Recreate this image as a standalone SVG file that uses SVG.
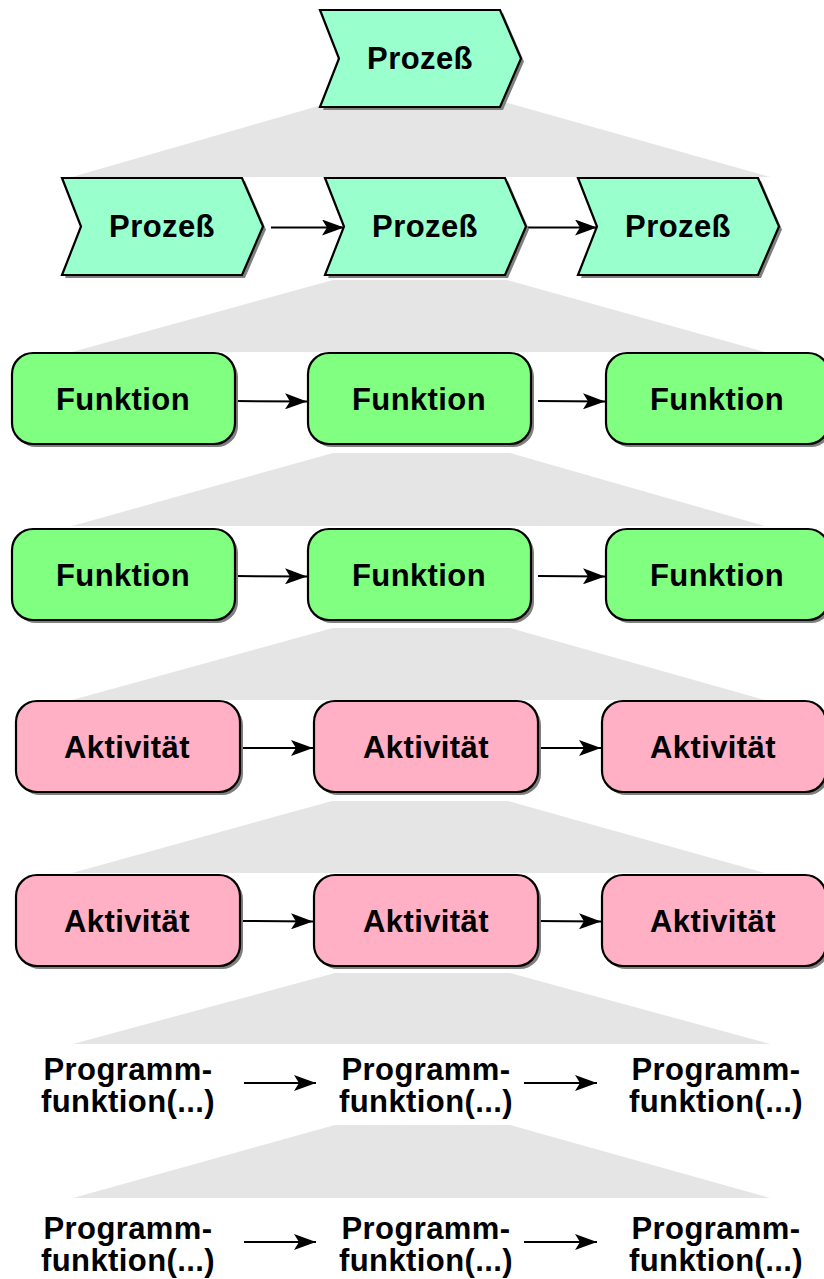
<svg xmlns="http://www.w3.org/2000/svg" width="824" height="1279" viewBox="0 0 824 1279">
<defs>
<style>
.tr{fill:#e5e5e5;stroke:none}
.sh{fill:#7f7f7f;stroke:none}
.pz{fill:#99ffcc;stroke:#000;stroke-width:2.2;stroke-linejoin:miter}
.fk{fill:#80ff80;stroke:#000;stroke-width:2.2}
.ak{fill:#ffb0c4;stroke:#000;stroke-width:2.2}
.t{font-family:"Liberation Sans",Arial,sans-serif;font-weight:bold;font-size:31px;letter-spacing:0.4px;text-anchor:middle;fill:#000}
.c{stroke:#000;stroke-width:2;fill:none;marker-end:url(#ah)}
</style>
<marker id="ah" markerWidth="22" markerHeight="16" refX="22" refY="8" orient="auto" markerUnits="userSpaceOnUse">
<path d="M0,0 L22,8 L0,16 L5,8 Z" fill="#000"/>
</marker>
<path id="chev" d="M0,0 H180 L201,48.5 L180,97 H0 L19,48.5 Z"/>
</defs>

<g id="trapezoids">
<polygon class="tr" points="322,105 508,103 770,177 72,177"/>
<polygon class="tr" points="333,280 507,280 765,352 72,352"/>
<polygon class="tr" points="333,453 510,453 765,526 72,526"/>
<polygon class="tr" points="333,628 510,628 765,700 72,700"/>
<polygon class="tr" points="332,801 508,801 765,873 72,873"/>
<polygon class="tr" points="335,973 510,973 770,1044 73,1044"/>
<polygon class="tr" points="335,1125 510,1125 770,1198 73,1198"/>
</g>

<g id="connectors">
<line class="c" x1="271" y1="227.5" x2="344" y2="227.5"/>
<line class="c" x1="527" y1="227.5" x2="597" y2="227.5"/>
<line class="c" x1="236" y1="401" x2="307" y2="401.5"/>
<line class="c" x1="538" y1="401" x2="605" y2="401.5"/>
<line class="c" x1="236" y1="576" x2="307" y2="576.5"/>
<line class="c" x1="538" y1="576" x2="605" y2="576.5"/>
<line class="c" x1="242" y1="748" x2="313" y2="748"/>
<line class="c" x1="536" y1="748" x2="601" y2="748"/>
<line class="c" x1="242" y1="921" x2="313" y2="921.5"/>
<line class="c" x1="536" y1="921" x2="601" y2="921.5"/>
<line class="c" x1="244" y1="1083" x2="316" y2="1083"/>
<line class="c" x1="524" y1="1083" x2="597" y2="1083"/>
<line class="c" x1="244" y1="1242" x2="316" y2="1242"/>
<line class="c" x1="524" y1="1242" x2="597" y2="1242"/>
</g>

<g id="p0" transform="translate(320,10)">
<use href="#chev" class="sh" x="3" y="3"/><use href="#chev" class="pz"/>
<text class="t" x="100" y="59">Prozeß</text>
</g>
<g id="p1" transform="translate(62,178)">
<use href="#chev" class="sh" x="3" y="3"/><use href="#chev" class="pz"/>
<text class="t" x="100" y="59">Prozeß</text>
</g>
<g id="p2" transform="translate(325,178)">
<use href="#chev" class="sh" x="3" y="3"/><use href="#chev" class="pz"/>
<text class="t" x="100" y="59">Prozeß</text>
</g>
<g id="p3" transform="translate(578,178)">
<use href="#chev" class="sh" x="3" y="3"/><use href="#chev" class="pz"/>
<text class="t" x="100" y="59">Prozeß</text>
</g>

<g id="f1"><rect class="sh" x="15" y="356" width="223" height="91" rx="21"/><rect class="fk" x="12" y="353" width="223" height="91" rx="21"/><text class="t" x="123" y="410">Funktion</text></g>
<g id="f2"><rect class="sh" x="311" y="356" width="223" height="91" rx="21"/><rect class="fk" x="308" y="353" width="223" height="91" rx="21"/><text class="t" x="419" y="410">Funktion</text></g>
<g id="f3"><rect class="sh" x="609" y="356" width="223" height="91" rx="21"/><rect class="fk" x="606" y="353" width="223" height="91" rx="21"/><text class="t" x="717" y="410">Funktion</text></g>

<g id="f4"><rect class="sh" x="15" y="532" width="223" height="91" rx="21"/><rect class="fk" x="12" y="529" width="223" height="91" rx="21"/><text class="t" x="123" y="586">Funktion</text></g>
<g id="f5"><rect class="sh" x="311" y="532" width="223" height="91" rx="21"/><rect class="fk" x="308" y="529" width="223" height="91" rx="21"/><text class="t" x="419" y="586">Funktion</text></g>
<g id="f6"><rect class="sh" x="609" y="532" width="223" height="91" rx="21"/><rect class="fk" x="606" y="529" width="223" height="91" rx="21"/><text class="t" x="717" y="586">Funktion</text></g>

<g id="a1"><rect class="sh" x="19" y="704" width="224" height="91" rx="21"/><rect class="ak" x="16" y="701" width="224" height="91" rx="21"/><text class="t" x="127" y="758">Aktivität</text></g>
<g id="a2"><rect class="sh" x="317" y="704" width="224" height="91" rx="21"/><rect class="ak" x="314" y="701" width="224" height="91" rx="21"/><text class="t" x="426" y="758">Aktivität</text></g>
<g id="a3"><rect class="sh" x="605" y="704" width="224" height="91" rx="21"/><rect class="ak" x="602" y="701" width="224" height="91" rx="21"/><text class="t" x="713" y="758">Aktivität</text></g>

<g id="a4"><rect class="sh" x="19" y="878" width="224" height="91" rx="21"/><rect class="ak" x="16" y="875" width="224" height="91" rx="21"/><text class="t" x="127" y="932">Aktivität</text></g>
<g id="a5"><rect class="sh" x="317" y="878" width="224" height="91" rx="21"/><rect class="ak" x="314" y="875" width="224" height="91" rx="21"/><text class="t" x="426" y="932">Aktivität</text></g>
<g id="a6"><rect class="sh" x="605" y="878" width="224" height="91" rx="21"/><rect class="ak" x="602" y="875" width="224" height="91" rx="21"/><text class="t" x="713" y="932">Aktivität</text></g>

<g id="pf1"><text class="t" x="128" y="1080">Programm-</text><text class="t" x="128" y="1112">funktion(...)</text></g>
<g id="pf2"><text class="t" x="426" y="1080">Programm-</text><text class="t" x="426" y="1112">funktion(...)</text></g>
<g id="pf3"><text class="t" x="716" y="1080">Programm-</text><text class="t" x="716" y="1112">funktion(...)</text></g>

<g id="pf4"><text class="t" x="128" y="1239">Programm-</text><text class="t" x="128" y="1271">funktion(...)</text></g>
<g id="pf5"><text class="t" x="426" y="1239">Programm-</text><text class="t" x="426" y="1271">funktion(...)</text></g>
<g id="pf6"><text class="t" x="716" y="1239">Programm-</text><text class="t" x="716" y="1271">funktion(...)</text></g>
</svg>
